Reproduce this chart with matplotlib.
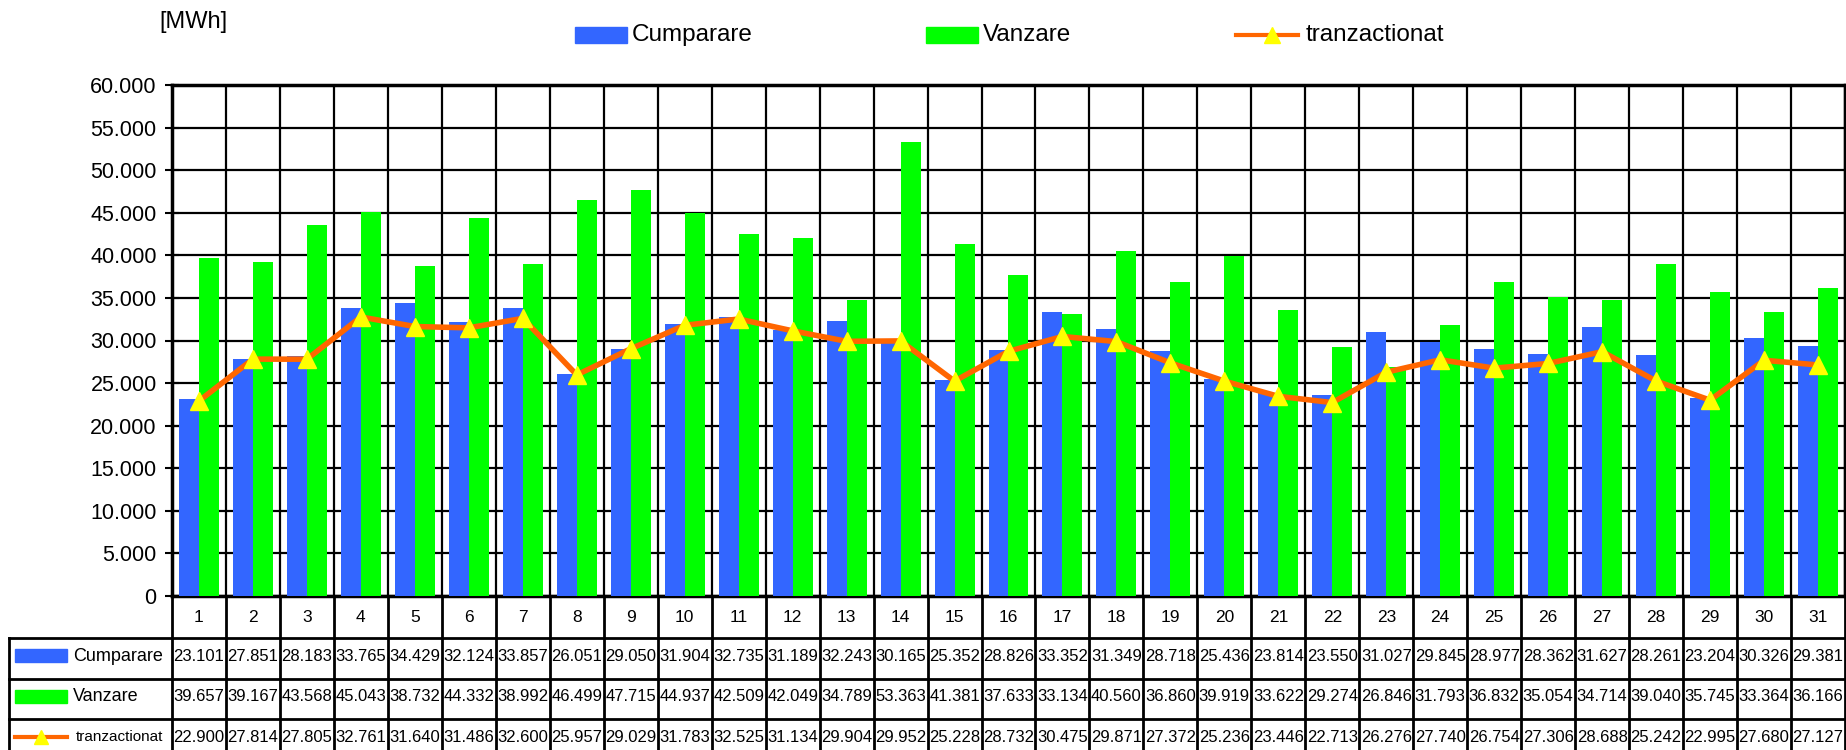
import numpy as np
import matplotlib
matplotlib.use('Agg')
import matplotlib.pyplot as plt
from matplotlib.patches import Rectangle
from matplotlib.lines import Line2D

days = [str(d) for d in range(1, 32)]
cumparare = [23101, 27851, 28183, 33765, 34429, 32124, 33857, 26051, 29050, 31904,
             32735, 31189, 32243, 30165, 25352, 28826, 33352, 31349, 28718, 25436,
             23814, 23550, 31027, 29845, 28977, 28362, 31627, 28261, 23204, 30326, 29381]
vanzare = [39657, 39167, 43568, 45043, 38732, 44332, 38992, 46499, 47715, 44937,
           42509, 42049, 34789, 53363, 41381, 37633, 33134, 40560, 36860, 39919,
           33622, 29274, 26846, 31793, 36832, 35054, 34714, 39040, 35745, 33364, 36166]
tranzactionat = [22900, 27814, 27805, 32761, 31640, 31486, 32600, 25957, 29029, 31783,
                 32525, 31134, 29904, 29952, 25228, 28732, 30475, 29871, 27372, 25236,
                 23446, 22713, 26276, 27740, 26754, 27306, 28688, 25242, 22995, 27680, 27127]
series_names = ['Cumparare', 'Vanzare', 'tranzactionat']
y_ticks = list(range(0, 60001, 5000))

BLUE = '#3366FF'
GREEN = '#00FF00'
ORANGE = '#FF6600'
YELLOW = '#FFFF00'

plt.rcParams['font.family'] = ['Liberation Sans', 'DejaVu Sans']

W, H = 1846, 750
fig = plt.figure(figsize=(W / 100, H / 100), dpi=100)

# pixel layout
left_px, right_px = 172, 1845
top_px, zero_px = 85, 596
colw = (right_px - left_px) / 31

ax = fig.add_axes([left_px / W, 1 - zero_px / H, (right_px - left_px) / W, (zero_px - top_px) / H])
x = np.arange(1, 32)
bw = 0.37
ax.bar(x - bw / 2, cumparare, width=bw, color=BLUE, zorder=3)
ax.bar(x + bw / 2, vanzare, width=bw, color=GREEN, zorder=3)
ax.plot(x, tranzactionat, color=ORANGE, lw=4, marker='^', ms=13,
        mfc=YELLOW, mec=YELLOW, zorder=4)
ax.set_xlim(0.5, 31.5)
ax.set_ylim(0, 60000)
ax.set_yticks(y_ticks)
ax.set_yticklabels([f'{v:,.0f}'.replace(',', '.') for v in y_ticks])
ax.set_xticks(np.arange(0.5, 32, 1))
ax.set_xticklabels([])
ax.tick_params(axis='x', length=0)
ax.tick_params(axis='y', direction='inout', length=10, width=1.5, labelsize=15.5, pad=6)
ax.grid(True, color='black', lw=1.6, zorder=1)
for s in ax.spines.values():
    s.set_linewidth(2.5)
ax.set_axisbelow(True)

# table below the plot
tax = fig.add_axes([0, 0, 1, 1 - zero_px / H])
tax.set_xlim(0.5 - left_px / colw, 0.5 + (W - left_px) / colw)
tax.set_ylim(H, zero_px)
tax.axis('off')
x_tab_left = 0.5 + (9 - left_px) / colw
row_edges = [638, 679, 719, 760]
lw_t = 2
for b in np.arange(0.5, 32, 1):
    tax.plot([b, b], [zero_px, H], color='black', lw=lw_t, clip_on=False)
tax.plot([x_tab_left, x_tab_left], [row_edges[0], H], color='black', lw=lw_t)
for y in row_edges[:-1]:
    tax.plot([x_tab_left, 31.5], [y, y], color='black', lw=lw_t)
for xi, d in zip(x, days):
    tax.text(xi, 618, d, ha='center', va='center', fontsize=12.5)

rows = [cumparare, vanzare, tranzactionat]
for r, (name, vals) in enumerate(zip(series_names, rows)):
    yc = (row_edges[r] + row_edges[r + 1]) / 2 - 2
    for xi, v in zip(x, vals):
        tax.text(xi, yc, f'{v / 1000:.3f}', ha='center', va='center', fontsize=12)
    hx0 = x_tab_left + 6 / colw
    if r < 2:
        tax.add_patch(Rectangle((hx0, yc - 7), 52 / colw, 13, color=[BLUE, GREEN][r]))
        tax.text(hx0 + 58 / colw, yc, name, ha='left', va='center', fontsize=13)
    else:
        tax.plot([hx0, hx0 + 52 / colw], [yc, yc], color=ORANGE, lw=3)
        tax.plot([hx0 + 26 / colw], [yc], marker='^', ms=10, color=YELLOW)
        tax.text(hx0 + 61 / colw, yc, name, ha='left', va='center', fontsize=11)

# unit label and top legend
fig.text(159 / W, 1 - 22 / H, '[MWh]', ha='left', va='center', fontsize=17)
ly = 1 - 35 / H
fig.patches.append(Rectangle((575 / W, ly - 8 / H), 52 / W, 16 / H, color=BLUE,
                             transform=fig.transFigure, figure=fig))
fig.text(632 / W, ly, 'Cumparare', ha='left', va='center', fontsize=17.5)
fig.patches.append(Rectangle((926 / W, ly - 8 / H), 52 / W, 16 / H, color=GREEN,
                             transform=fig.transFigure, figure=fig))
fig.text(983 / W, ly, 'Vanzare', ha='left', va='center', fontsize=17.5)
fig.lines.append(Line2D([1236 / W, 1298 / W], [ly, ly], color=ORANGE, lw=3,
                        transform=fig.transFigure, figure=fig))
fig.lines.append(Line2D([1272 / W], [ly], marker='^', ms=12, color=YELLOW, lw=0,
                        transform=fig.transFigure, figure=fig))
fig.text(1306 / W, ly, 'tranzactionat', ha='left', va='center', fontsize=17.5)

fig.savefig('out.png', dpi=100)
